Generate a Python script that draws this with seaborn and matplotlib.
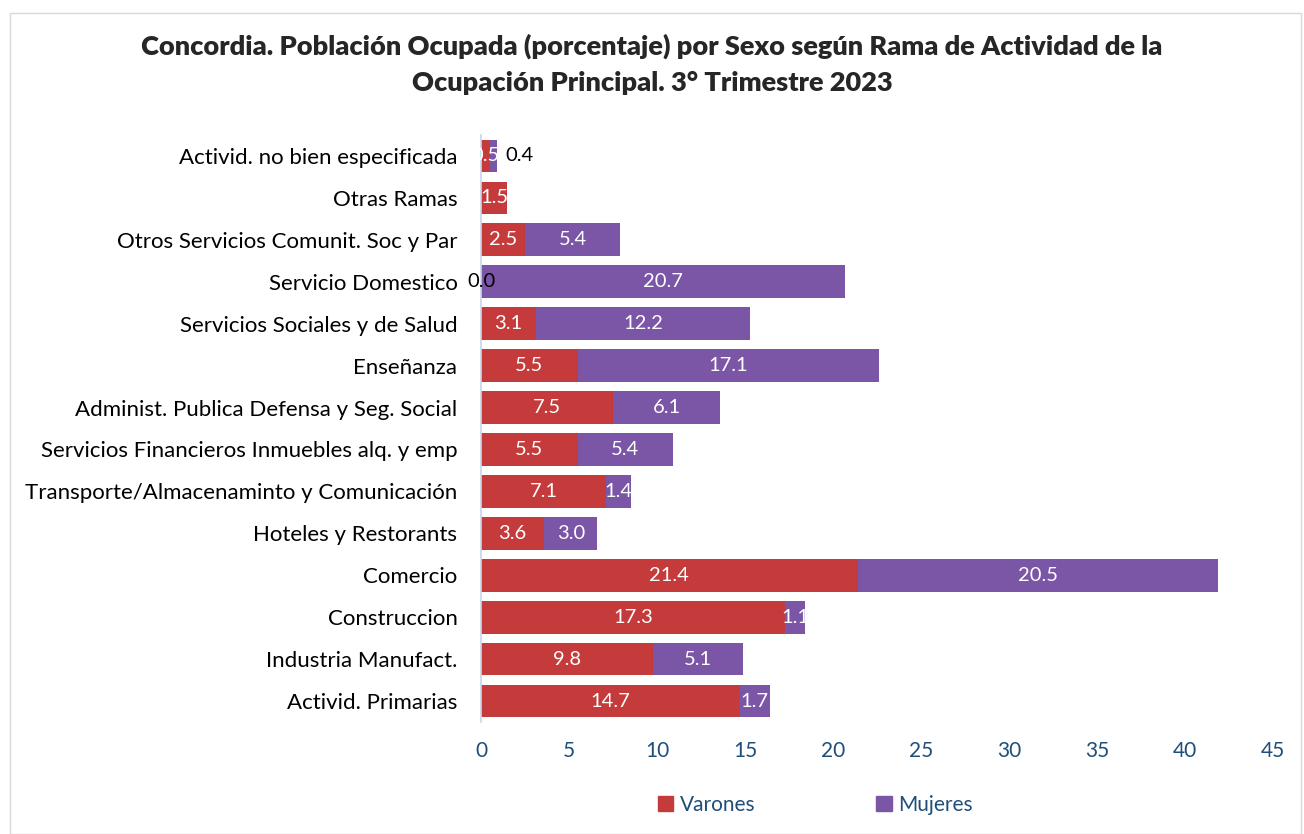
import pandas as pd
import matplotlib.pyplot as plt
import seaborn as sns
from matplotlib.patches import Patch

# Data
ramas = ['Activid. no bien especificada', 'Otras Ramas', 'Otros Servicios Comunit. Soc y Par',
         'Servicio Domestico', 'Servicios Sociales y de Salud', 'Enseñanza',
         'Administ. Publica Defensa y Seg. Social', 'Servicios Financieros Inmuebles alq. y emp',
         'Transporte/Almacenaminto y Comunicación', 'Hoteles y Restorants', 'Comercio',
         'Construccion', 'Industria Manufact.', 'Activid. Primarias']
varones = [0.5, 1.5, 2.5, 0.0, 3.1, 5.5, 7.5, 5.5, 7.1, 3.6, 21.4, 17.3, 9.8, 14.7]
mujeres = [0.4, 0.0, 5.4, 20.7, 12.2, 17.1, 6.1, 5.4, 1.4, 3.0, 20.5, 1.1, 5.1, 1.7]

RED = '#C53A3A'
PURPLE = '#7B55A6'
BLUE = '#1F4E79'

sns.set_style('white')
plt.rcParams['font.family'] = ['Lato', 'DejaVu Sans']

df = pd.DataFrame({'rama': ramas, 'Varones': varones, 'Mujeres': mujeres})
df['total'] = df['Varones'] + df['Mujeres']

fig = plt.figure(figsize=(13.04, 8.34), dpi=100)
ax = fig.add_axes([481 / 1304, 1 - 722 / 834, (1273 - 481) / 1304, (722 - 135) / 834])

# stacked: totals (purple) underneath, varones (red) on top
sns.barplot(data=df, y='rama', x='total', color=PURPLE, saturation=1, width=0.78, ax=ax,
            orient='h', linewidth=0)
sns.barplot(data=df, y='rama', x='Varones', color=RED, saturation=1, width=0.78, ax=ax,
            orient='h', linewidth=0)

red_bars = ax.containers[1]
for i, (v, m) in enumerate(zip(varones, mujeres)):
    # Varones label
    if v == 0:
        ax.text(0, i, f'{v:.1f}', ha='center', va='center', fontsize=14.5, color='black')
    else:
        t = ax.text(v / 2, i, f'{v:.1f}', ha='center', va='center', fontsize=14.5, color='white')
        t.set_clip_path(red_bars[i])
    # Mujeres label
    if m == 0:
        continue
    if m < 0.5:
        ax.text(v + m + 0.5, i, f'{m:.1f}', ha='left', va='center', fontsize=14.5, color='black')
    else:
        ax.text(v + m / 2, i, f'{m:.1f}', ha='center', va='center', fontsize=14.5, color='white')

ax.set_xlim(0, 45)
ax.set_xticks(range(0, 46, 5))
ax.set_xlabel('')
ax.set_ylabel('')
ax.tick_params(axis='x', colors=BLUE, labelsize=15, length=0, pad=14)
ax.tick_params(axis='y', labelsize=16, length=0, pad=17, colors='black')
for s in ['top', 'right', 'bottom']:
    ax.spines[s].set_visible(False)
ax.spines['left'].set_color('#C9D5E6')
ax.spines['left'].set_linewidth(1.2)

fig.suptitle('Concordia. Población Ocupada (porcentaje) por Sexo según Rama de Actividad de la\n'
             'Ocupación Principal. 3° Trimestre 2023',
             fontsize=19.5, fontweight='heavy', y=0.96, linespacing=1.6)

handles = [Patch(color=RED, label='Varones'), Patch(color=PURPLE, label='Mujeres')]
leg = fig.legend(handles=handles, loc='center', bbox_to_anchor=(0.625, 0.035), ncol=2,
                 frameon=False, fontsize=15, handlelength=0.75, handleheight=0.75,
                 columnspacing=5.8, handletextpad=0.3)
for t in leg.get_texts():
    t.set_color(BLUE)

# light frame round the chart
fig.patches.append(plt.Rectangle((0.008, 0.0), 0.99, 0.985, transform=fig.transFigure,
                                 fill=False, edgecolor='#D9D9D9', linewidth=1))

fig.savefig('out.png', dpi=100)
